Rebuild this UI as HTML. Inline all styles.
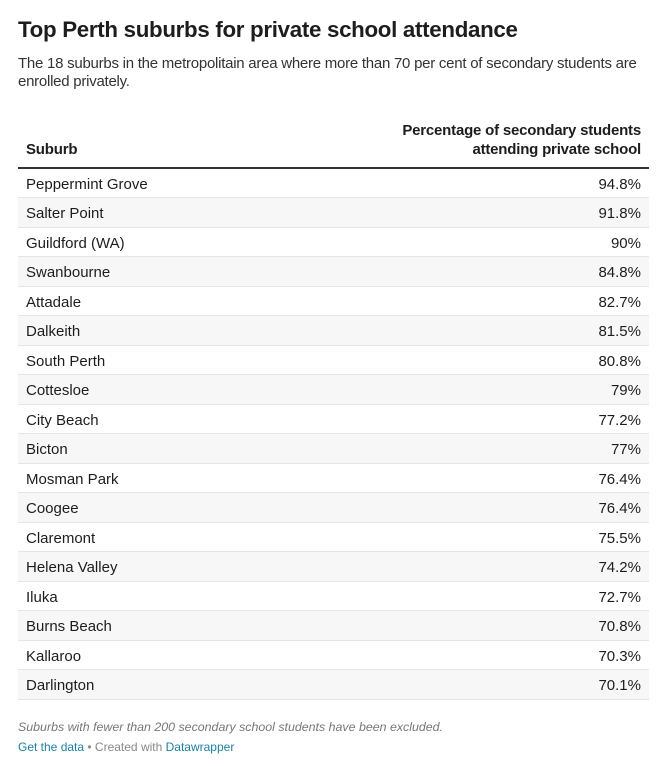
<!DOCTYPE html>
<html><head><meta charset="utf-8"><style>
body{margin:0;background:#fff;font-family:"Liberation Sans",Arial,sans-serif;color:#1d1d1d;width:660px;height:766px;overflow:hidden;position:relative}
h1{position:absolute;left:18px;top:17px;margin:0;font-size:22.3px;font-weight:bold;letter-spacing:-0.3px}
.sub{position:absolute;left:18px;top:55px;width:640px;font-size:15px;line-height:18px;color:#333;letter-spacing:-0.25px}
table{position:absolute;left:18px;top:121px;width:631px;border-collapse:collapse;font-size:15px}
th{font-weight:bold;vertical-align:bottom;padding:0 8px 8px 8px;line-height:19px;border-bottom:2px solid #333;letter-spacing:-0.2px}
td{height:29.5px;padding:0 8px;box-sizing:border-box;border-bottom:1px solid #e5e5e5;line-height:19px;padding-top:3px}
tr.g td{background:#f7f7f7}
.r{text-align:right}
.note{position:absolute;left:18px;top:720px;font-size:12.4px;font-style:italic;color:#777}
.foot{position:absolute;left:18px;top:740px;font-size:12px;color:#888}
.foot a{color:#1d81a2;text-decoration:none}
</style></head><body>
<h1>Top Perth suburbs for private school attendance</h1>
<div class="sub">The 18 suburbs in the metropolitain area where more than 70 per cent of secondary students are enrolled privately.</div>
<table>
<thead><tr>
<th style="text-align:left">Suburb</th>
<th class="r">Percentage of secondary students<br>attending private school</th>
</tr></thead>
<tbody id="tb"></tbody>
</table>
<div class="note">Suburbs with fewer than 200 secondary school students have been excluded.</div>
<div class="foot"><a href="#">Get the data</a> • Created with <a href="#">Datawrapper</a></div>
<script>
const suburbs=["Peppermint Grove","Salter Point","Guildford (WA)","Swanbourne","Attadale","Dalkeith","South Perth","Cottesloe","City Beach","Bicton","Mosman Park","Coogee","Claremont","Helena Valley","Iluka","Burns Beach","Kallaroo","Darlington"];
const values=[94.8,91.8,90,84.8,82.7,81.5,80.8,79,77.2,77,76.4,76.4,75.5,74.2,72.7,70.8,70.3,70.1];
const tb=document.getElementById('tb');
suburbs.forEach((s,i)=>{
  const tr=document.createElement('tr');
  if(i%2===1)tr.className='g';
  
  
  const a=document.createElement('td');a.textContent=s;
  
  
  const b=document.createElement('td');b.className='r';b.textContent=values[i]+'%';
  
  
  tr.appendChild(a);tr.appendChild(b);tb.appendChild(tr);
});
</script>
</body></html>
